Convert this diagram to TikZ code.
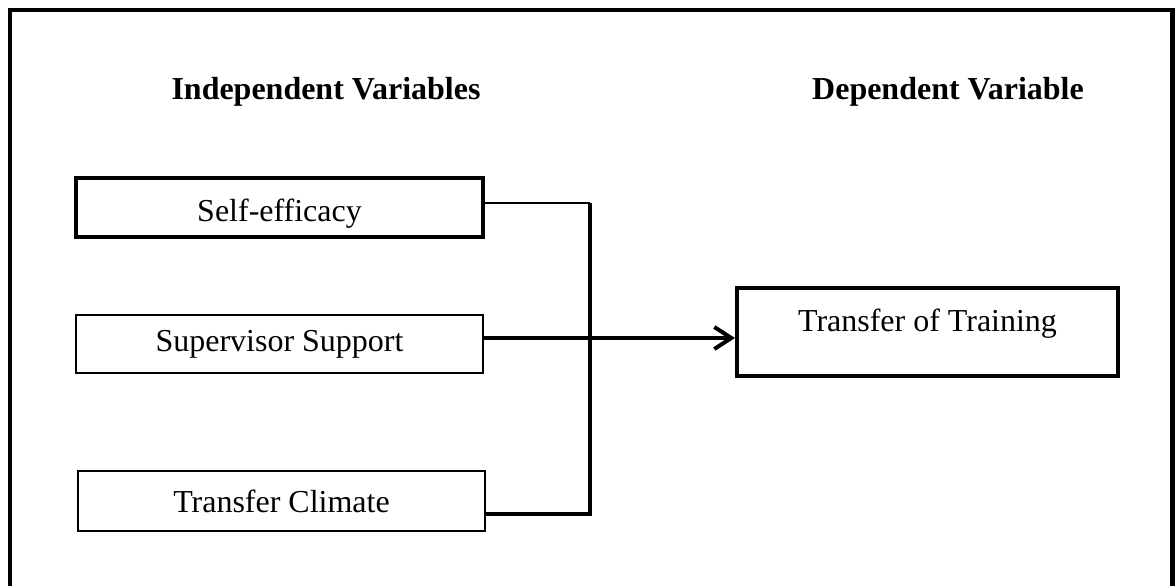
\documentclass[tikz,border=0pt]{standalone}
\usepackage{fontspec}
\setmainfont{Liberation Serif}
\usetikzlibrary{arrows.meta}

\begin{document}
\begin{tikzpicture}[
		font=\fontsize{9.1}{11}\selectfont,
		varbox/.style={draw, line width=0.02cm, minimum width=4.07cm, minimum height=0.58cm, inner sep=0},
		heavybox/.style={varbox, line width=0.04cm},
		link/.style={line width=0.033cm},
		head/.style={font=\fontsize{9.1}{11}\selectfont\bfseries}
	]
		%%%%% START %%%%%
		\clip (0, 0) rectangle (11.75, 5.85);
		\draw[line width=0.045cm] (0.10, -0.2) -- (0.10, 5.75) -- (11.725, 5.75) -- (11.725, -0.2);
		
		\node[head] (indep) at (3.26, 4.93) {Independent Variables};
		\node[head] (dep) at (9.48, 4.93) {Dependent Variable};
		
		\node[heavybox, text height=0.43cm, text depth=0.16cm] (self) at (2.795, 3.775) {Self-efficacy};
		\node[varbox] (super) at (2.795, 2.41) {Supervisor Support};
		\node[varbox, minimum height=0.60cm] (climate) at (2.815, 0.84) {Transfer Climate};
		
		\node[heavybox, minimum width=3.81cm, text height=0.43cm, text depth=0.45cm] (transfer) at (9.275, 2.53) {Transfer of Training};
		
		\coordinate (top) at (5.90, 3.82);
		\coordinate (hub) at (5.90, 2.47);
		\coordinate (bot) at (5.90, 0.71);
		
		\draw[line width=0.02cm] (self.east |- top) -- (top);
		\draw[link] (top) -- (bot) -- (climate.east |- bot);
		\draw[link, -{Straight Barb[length=0.17cm, width=0.22cm, line width=0.04cm]}] (super.east |- hub) -- (transfer.west |- hub);
		%%%%% END %%%%%
	\end{tikzpicture}
\end{document}
